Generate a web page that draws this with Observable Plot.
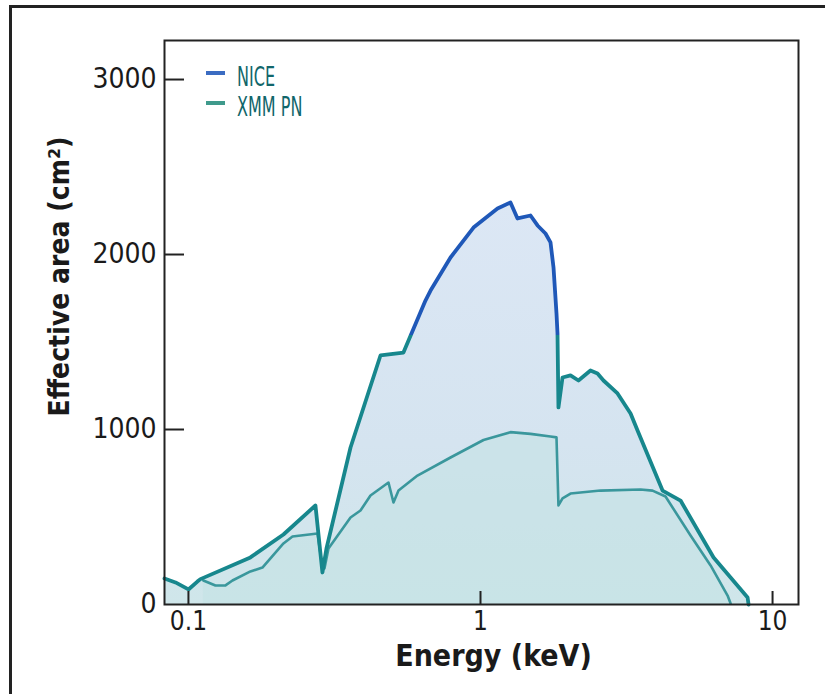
<!DOCTYPE html>
<html>
<head>
<meta charset="utf-8">
<script src="https://cdn.jsdelivr.net/npm/d3@7"></script>
<script src="https://cdn.jsdelivr.net/npm/@observablehq/plot@0.6"></script>
<style>
  body { margin: 0; background: #fff; }
  #wrap { position: relative; width: 825px; height: 694px; overflow: hidden; background: #fff; }
  #outer { position: absolute; left: 9px; top: 5px; width: 830px; height: 700px;
           border-top: 3px solid #222; border-left: 3px solid #222; }
  .leg { position: absolute; font-family: "DejaVu Sans Condensed", "DejaVu Sans", sans-serif;
         font-size: 27px; color: #11666a; transform-origin: 0 50%; transform: scaleX(0.66); white-space: nowrap; line-height: 1; }
  .dash { position: absolute; width: 19px; height: 4px; }
</style>
</head>
<body>
<div id="wrap">
  <div id="outer"></div>
  <div id="chart"></div>
  <div class="dash" style="left:206px; top:71px; background:#3b6cc2;"></div>
  <div class="leg" style="left:237px; top:63px;">NICE</div>
  <div class="dash" style="left:206px; top:101px; background:#3f9a8c;"></div>
  <div class="leg" style="left:237px; top:93px;">XMM PN</div>
</div>
<script>
// NICE effective area (keV, cm²)
const niceEnergy = [0.0828, 0.0903, 0.1, 0.1073, 0.1099, 0.163, 0.2115, 0.2722, 0.2876, 0.2969, 0.3589, 0.4545, 0.5447, 0.648, 0.6745, 0.7895, 0.9463, 1.1435, 1.2667, 1.3388, 1.4834, 1.5678, 1.6696, 1.7367, 1.7783, 1.8206, 1.835, 1.849, 1.909, 2.033, 2.165, 2.38, 2.516, 2.637, 2.946, 3.265, 3.449, 4.201, 4.841, 6.281, 8.213, 8.277];
const niceArea   = [149, 126, 86, 131, 145, 269, 400, 566, 183, 320, 897, 1423, 1440, 1737, 1794, 1983, 2154, 2263, 2297, 2206, 2223, 2166, 2120, 2069, 1926, 1663, 1549, 1126, 1297, 1309, 1280, 1337, 1320, 1280, 1206, 1091, 994, 651, 594, 269, 40, 0];
// XMM-Newton PN effective area (keV, cm²)
const xmmEnergy = [0.1125, 0.1237, 0.1339, 0.1415, 0.163, 0.1792, 0.2115, 0.2271, 0.2766, 0.2854, 0.2922, 0.3016, 0.3589, 0.3882, 0.4201, 0.4841, 0.5036, 0.5239, 0.6084, 0.7895, 1.024, 1.2667, 1.4834, 1.7367, 1.8206, 1.849, 1.909, 2.033, 2.576, 3.531, 3.882, 4.301, 5.239, 6.135, 7.015, 7.184];
const xmmArea   = [137, 109, 109, 137, 189, 211, 349, 389, 406, 251, 206, 320, 497, 537, 623, 697, 583, 651, 737, 840, 940, 985, 975, 960, 955, 566, 606, 634, 651, 657, 651, 617, 394, 223, 51, 6];

const xTicks = [0.1, 1, 10];
const xTickLabels = ["0.1", "1", "10"];
const yTicks = [0, 1000, 2000, 3000];
const yTickLabels = ["0", "1000", "2000", "3000"];

const nice = niceEnergy.map((e, i) => ({e, a: niceArea[i]}));
const xmm = xmmEnergy.map((e, i) => ({e, a: xmmArea[i]}));

const W = 825, H = 694, mL = 164, mT = 40, mR = 27, mB = 90;
const teal = "#17878d", blue = "#1f58b8";

const plot = Plot.plot({
  width: W, height: H,
  marginLeft: mL, marginTop: mT, marginRight: mR, marginBottom: mB,
  style: {fontFamily: "'DejaVu Sans Condensed', 'DejaVu Sans', sans-serif", fontSize: "28px", color: "#1a1a1a", background: "transparent"},
  x: {type: "log", domain: [0.0828, 12.27]},
  y: {domain: [0, 3223]},
  marks: [
    Plot.areaY(nice, {x: "e", y: "a", fill: "url(#niceFill)", curve: "linear"}),
    Plot.areaY(xmm, {x: "e", y: "a", fill: "#c3e2e4", fillOpacity: 0.55, curve: "linear"}),
    Plot.line(xmm, {x: "e", y: "a", stroke: "#2a8e94", strokeWidth: 2.6, strokeOpacity: 0.9}),
    Plot.line(nice, {x: "e", y: "a", stroke: "url(#niceStroke)", strokeWidth: 3.8, strokeLinejoin: "round"}),
    Plot.frame({stroke: "#222", strokeWidth: 2}),
    Plot.tickY(yTicks.slice(1), {y: d => d, insetRight: W - mL - mR - 20, stroke: "#222", strokeWidth: 2}),
    Plot.tickX(xTicks, {x: d => d, insetTop: H - mT - mB - 13, stroke: "#222", strokeWidth: 2}),
    Plot.axisY(yTicks, {tickSize: 0, tickPadding: 8, fontSize: 28, label: null, tickFormat: d => yTickLabels[yTicks.indexOf(d)]}),
    Plot.axisX(xTicks, {tickSize: 0, tickPadding: 7, fontSize: 26, label: null, tickFormat: d => xTickLabels[xTicks.indexOf(d)]}),
    Plot.text(["Effective area (cm²)"], {frameAnchor: "left", textAnchor: "middle", rotate: -90, dx: -104, dy: -46, fontSize: 28, fontWeight: "bold", fill: "#1a1a1a"}),
    Plot.text(["Energy (keV)"], {frameAnchor: "bottom", dx: 12, dy: 61, fontSize: 30, fontWeight: "bold", fill: "#1a1a1a"})
  ]
});

// gradients (styling only)
const yScale = plot.scale("y");
const yTop = mT, yBot = H - mB;
const yThr = yScale.apply(1540);
const off = ((yThr - yTop) / (yBot - yTop) * 100).toFixed(2) + "%";
const svgNS = "http://www.w3.org/2000/svg";
const defs = document.createElementNS(svgNS, "defs");
defs.innerHTML = `
  <linearGradient id="niceStroke" gradientUnits="userSpaceOnUse" x1="0" y1="${yTop}" x2="0" y2="${yBot}">
    <stop offset="0%" stop-color="${blue}"/>
    <stop offset="${off}" stop-color="${blue}"/>
    <stop offset="${off}" stop-color="${teal}"/>
    <stop offset="100%" stop-color="${teal}"/>
  </linearGradient>
  <linearGradient id="niceFill" gradientUnits="userSpaceOnUse" x1="0" y1="${yScale.apply(2300)}" x2="0" y2="${yBot}">
    <stop offset="0%" stop-color="#dce7f5"/>
    <stop offset="60%" stop-color="#d5e4f0"/>
    <stop offset="100%" stop-color="#cfe6ea"/>
  </linearGradient>`;
plot.insertBefore(defs, plot.firstChild);
plot.style.position = "absolute";
plot.style.left = "0px";
plot.style.top = "0px";
document.getElementById("chart").appendChild(plot);
</script>
</body>
</html>
